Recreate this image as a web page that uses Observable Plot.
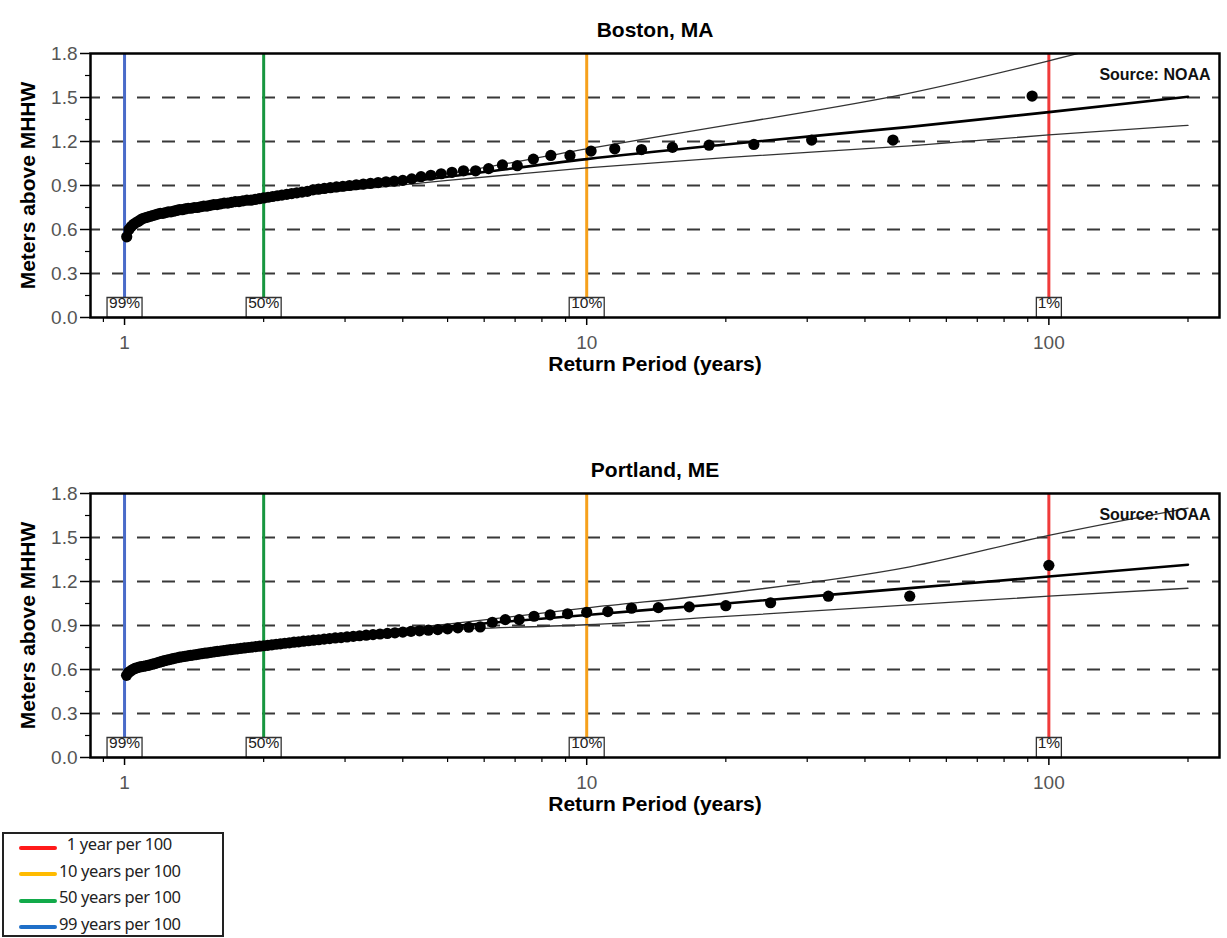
<!DOCTYPE html>
<html>
<head>
<meta charset="utf-8">
<script src="https://cdn.jsdelivr.net/npm/d3@7"></script>
<script src="https://cdn.jsdelivr.net/npm/@observablehq/plot@0.6"></script>
<style>
  body { margin:0; background:#fff; width:1227px; height:938px; position:relative; overflow:hidden; font-family:"Liberation Sans", Arial, sans-serif; }
  #c1 { position:absolute; left:0; top:0; }
  #c2 { position:absolute; left:0; top:440px; }
  #legend { position:absolute; left:2px; top:832px; width:218px; height:101px; border:2px solid #222; background:#fff; font-family:"Noto Sans", sans-serif; font-size:16.5px; letter-spacing:-0.4px; color:#222; z-index:5; }
  .row { position:relative; height:26.5px; line-height:26.5px; }
  .sw { position:absolute; left:15px; top:11.5px; width:38px; height:4px; border-radius:2px; }
  .lbl { position:absolute; left:55px; top:-3px; white-space:pre; }
</style>
</head>
<body>
<div id="c1"></div>
<div id="c2"></div>
<div id="legend"></div>
<script>
// ---------------- data ----------------
const bostonTitle = "Boston, MA";
const portlandTitle = "Portland, ME";
const yLabel = "Meters above MHHW";
const xLabel = "Return Period (years)";
const sourceLabel = "Source: NOAA";

const yMajor = [0, 0.3, 0.6, 0.9, 1.2, 1.5, 1.8];
const yMinor = [0.15, 0.45, 0.75, 1.05, 1.35, 1.65];
const gridLevels = [0.3, 0.6, 0.9, 1.2, 1.5];
const xMajor = [1, 10, 100];
const xMinor = [0.9, 2, 3, 4, 5, 6, 7, 8, 9, 20, 30, 40, 50, 60, 70, 80, 90, 200];

const markerT = [1, 2, 10, 100];
const markerLabels = ["99%", "50%", "10%", "1%"];
const markerColors = ["#4a6bc9", "#17963f", "#f6a11c", "#f03a3a"];

const legendLabels = ["  1 year per 100", "10 years per 100", "50 years per 100", "99 years per 100"];
const legendColors = ["#ff1a1a", "#ffbb00", "#12aa4a", "#1f6fc8"];

// Boston annual maxima: return period (years) and level (m above MHHW)
const bostonT = [92, 46, 30.67, 23, 18.4, 15.33, 13.14, 11.5, 10.22, 9.2,
  8.364, 7.667, 7.077, 6.571, 6.133, 5.75, 5.412, 5.111, 4.842, 4.6,
  4.381, 4.182, 4, 3.833, 3.68, 3.538, 3.407, 3.286, 3.172, 3.067,
  2.968, 2.875, 2.788, 2.706, 2.629, 2.556, 2.486, 2.421, 2.359, 2.3,
  2.244, 2.19, 2.14, 2.091, 2.044, 2, 1.957, 1.917, 1.878, 1.84,
  1.804, 1.769, 1.736, 1.704, 1.673, 1.643, 1.614, 1.586, 1.559, 1.533,
  1.508, 1.484, 1.46, 1.438, 1.415, 1.394, 1.373, 1.353, 1.333, 1.314,
  1.296, 1.278, 1.26, 1.243, 1.227, 1.211, 1.195, 1.179, 1.165, 1.15,
  1.136, 1.122, 1.108, 1.095, 1.082, 1.07, 1.057, 1.045, 1.034, 1.022,
  1.011];
const bostonLevel = [1.51, 1.21, 1.21, 1.18, 1.175, 1.16, 1.145, 1.15, 1.135, 1.105,
  1.105, 1.08, 1.035, 1.04, 1.015, 1.0, 1.0, 0.99, 0.98, 0.97,
  0.96, 0.945, 0.935, 0.93, 0.925, 0.92, 0.915, 0.91, 0.905, 0.90,
  0.895, 0.89, 0.885, 0.88, 0.875, 0.87, 0.86, 0.855, 0.85, 0.845,
  0.84, 0.835, 0.83, 0.825, 0.82, 0.815, 0.81, 0.805, 0.80, 0.80,
  0.795, 0.79, 0.79, 0.785, 0.78, 0.78, 0.775, 0.77, 0.77, 0.765,
  0.76, 0.76, 0.755, 0.75, 0.75, 0.745, 0.745, 0.74, 0.735, 0.735,
  0.73, 0.725, 0.72, 0.72, 0.715, 0.71, 0.71, 0.705, 0.70, 0.695,
  0.69, 0.685, 0.68, 0.675, 0.665, 0.655, 0.645, 0.635, 0.62, 0.60,
  0.55];

// Portland annual maxima
const portlandT = [100, 50, 33.33, 25, 20, 16.67, 14.29, 12.5, 11.11, 10,
  9.091, 8.333, 7.692, 7.143, 6.667, 6.25, 5.882, 5.556, 5.263, 5,
  4.762, 4.545, 4.348, 4.167, 4, 3.846, 3.704, 3.571, 3.448, 3.333,
  3.226, 3.125, 3.03, 2.941, 2.857, 2.778, 2.703, 2.632, 2.564, 2.5,
  2.439, 2.381, 2.326, 2.273, 2.222, 2.174, 2.128, 2.083, 2.041, 2,
  1.961, 1.923, 1.887, 1.852, 1.818, 1.786, 1.754, 1.724, 1.695, 1.667,
  1.639, 1.613, 1.587, 1.563, 1.538, 1.515, 1.493, 1.471, 1.449, 1.429,
  1.408, 1.389, 1.37, 1.351, 1.333, 1.316, 1.299, 1.282, 1.266, 1.25,
  1.235, 1.22, 1.205, 1.19, 1.176, 1.163, 1.149, 1.136, 1.124, 1.111,
  1.099, 1.087, 1.075, 1.064, 1.053, 1.042, 1.031, 1.02, 1.01];
const portlandLevel = [1.31, 1.10, 1.10, 1.055, 1.035, 1.027, 1.022, 1.018, 0.995, 0.99,
  0.98, 0.973, 0.963, 0.94, 0.94, 0.922, 0.89, 0.888, 0.884, 0.877,
  0.872, 0.868, 0.864, 0.86, 0.855, 0.85, 0.846, 0.842, 0.838, 0.834,
  0.83, 0.826, 0.822, 0.818, 0.815, 0.811, 0.807, 0.803, 0.80, 0.796,
  0.793, 0.789, 0.786, 0.782, 0.779, 0.775, 0.772, 0.768, 0.765, 0.762,
  0.759, 0.756, 0.753, 0.75, 0.747, 0.744, 0.741, 0.738, 0.735, 0.732,
  0.729, 0.726, 0.723, 0.72, 0.717, 0.714, 0.711, 0.708, 0.705, 0.702,
  0.699, 0.696, 0.693, 0.69, 0.687, 0.684, 0.68, 0.676, 0.672, 0.668,
  0.664, 0.66, 0.655, 0.65, 0.645, 0.64, 0.636, 0.632, 0.628, 0.625,
  0.622, 0.619, 0.616, 0.612, 0.607, 0.60, 0.59, 0.58, 0.56];

// fitted return-level curves and confidence bounds
const fitT = [1.05, 1.2, 1.5, 2, 3, 5, 10, 20, 50, 100, 200];
const bostonFit   = [0.63, 0.71, 0.77, 0.815, 0.875, 0.96, 1.08, 1.18, 1.30, 1.40, 1.505];
const bostonUpper = [0.64, 0.72, 0.78, 0.825, 0.885, 0.98, 1.15, 1.31, 1.53, 1.75, 2.00];
const bostonLower = [0.62, 0.70, 0.76, 0.805, 0.865, 0.935, 1.02, 1.09, 1.17, 1.245, 1.31];
const portlandFit   = [0.61, 0.66, 0.72, 0.765, 0.83, 0.893, 0.972, 1.05, 1.155, 1.234, 1.314];
const portlandUpper = [0.62, 0.67, 0.73, 0.775, 0.84, 0.91, 1.02, 1.12, 1.30, 1.514, 1.70];
const portlandLower = [0.60, 0.65, 0.71, 0.755, 0.82, 0.87, 0.905, 0.962, 1.04, 1.10, 1.154];

// ---------------- chart ----------------
const wideBox = {draw(ctx) { ctx.rect(-17.5, -10, 35, 20); }};
const narrowBox = {draw(ctx) { ctx.rect(-12.5, -10, 25, 20); }};

function chart(title, T, level, fc, fu, fl) {
  const pts = T.map((t, i) => ({t, v: level[i]}));
  const fit = fitT.map((t, i) => ({t, c: fc[i], u: fu[i], l: fl[i]}));
  const markers = markerT.map((t, i) => ({t, label: markerLabels[i], color: markerColors[i]}));
  return Plot.plot({
    width: 1227, height: 400,
    marginLeft: 90, marginRight: 8, marginTop: 53, marginBottom: 83,
    x: {type: "log", domain: [0.844, 234]},
    y: {domain: [0, 1.8]},
    style: {fontFamily: "Liberation Sans, Arial, sans-serif", fontSize: "19px", background: "transparent", color: "#555"},
    marks: [
      Plot.ruleY(gridLevels, {stroke: "#383838", strokeWidth: 2.2, strokeDasharray: "13,12", strokeDashoffset: 3}),
      Plot.ruleX(markers, {x: "t", stroke: "color", strokeWidth: 3, insetBottom: 20}),
      Plot.line(fit, {x: "t", y: "u", stroke: "#333", strokeWidth: 1.3, curve: "monotone-x", clip: true}),
      Plot.line(fit, {x: "t", y: "l", stroke: "#333", strokeWidth: 1.3, curve: "monotone-x", clip: true}),
      Plot.line(fit, {x: "t", y: "c", stroke: "#000", strokeWidth: 2.6, curve: "monotone-x", clip: true}),
      Plot.dot(pts, {x: "t", y: "v", r: 5.6, fill: "#000"}),
      Plot.dot(markers.filter(d => d.label.length > 2), {x: "t", frameAnchor: "bottom", dy: -10, r: 5, symbol: wideBox, fill: "#fff", stroke: "#333", strokeWidth: 1.3}),
      Plot.dot(markers.filter(d => d.label.length <= 2), {x: "t", frameAnchor: "bottom", dy: -10, r: 5, symbol: narrowBox, fill: "#fff", stroke: "#333", strokeWidth: 1.3}),
      Plot.text(markers, {x: "t", text: "label", frameAnchor: "bottom", dy: -10, fontSize: 15.5, fill: "#222"}),
      Plot.text([sourceLabel], {text: d => d, frameAnchor: "top-right", dx: -9, dy: 15, textAnchor: "end", fontWeight: "bold", fontSize: 16, fill: "#111"}),
      Plot.frame({stroke: "#000", strokeWidth: 2.5}),
      Plot.axisX({ticks: xMajor, tickSize: 8, tickPadding: 10, tickFormat: d => String(d), stroke: "#000", strokeWidth: 1.5, fill: "#555", label: null}),
      Plot.axisX({ticks: xMinor, tickSize: 5, tickFormat: () => "", stroke: "#000", strokeWidth: 1.2, label: null}),
      Plot.axisY({ticks: yMajor, tickSize: 10, tickPadding: 3, tickFormat: d3.format(".1f"), stroke: "#000", strokeWidth: 1.5, fill: "#555", label: null}),
      Plot.axisY({ticks: yMinor, tickSize: 5, tickFormat: () => "", stroke: "#000", strokeWidth: 1.2, label: null}),
      Plot.text([title], {text: d => d, frameAnchor: "top", dy: -31, fontWeight: "bold", fontSize: 21, fill: "#000"}),
      Plot.text([xLabel], {text: d => d, frameAnchor: "bottom", dy: 53, fontWeight: "bold", fontSize: 21, fill: "#000"}),
      Plot.text([yLabel], {text: d => d, frameAnchor: "left", dx: -62, rotate: -90, textAnchor: "middle", fontWeight: "bold", fontSize: 21, fill: "#000"})
    ]
  });
}

document.getElementById("c1").appendChild(chart(bostonTitle, bostonT, bostonLevel, bostonFit, bostonUpper, bostonLower));
document.getElementById("c2").appendChild(chart(portlandTitle, portlandT, portlandLevel, portlandFit, portlandUpper, portlandLower));

// legend
const leg = document.getElementById("legend");
legendLabels.forEach((txt, i) => {
  const row = document.createElement("div");
  row.className = "row";
  const sw = document.createElement("span");
  sw.className = "sw";
  sw.style.background = legendColors[i];
  const lb = document.createElement("span");
  lb.className = "lbl";
  lb.textContent = txt;
  row.appendChild(sw);
  row.appendChild(lb);
  leg.appendChild(row);
});
</script>
</body>
</html>
